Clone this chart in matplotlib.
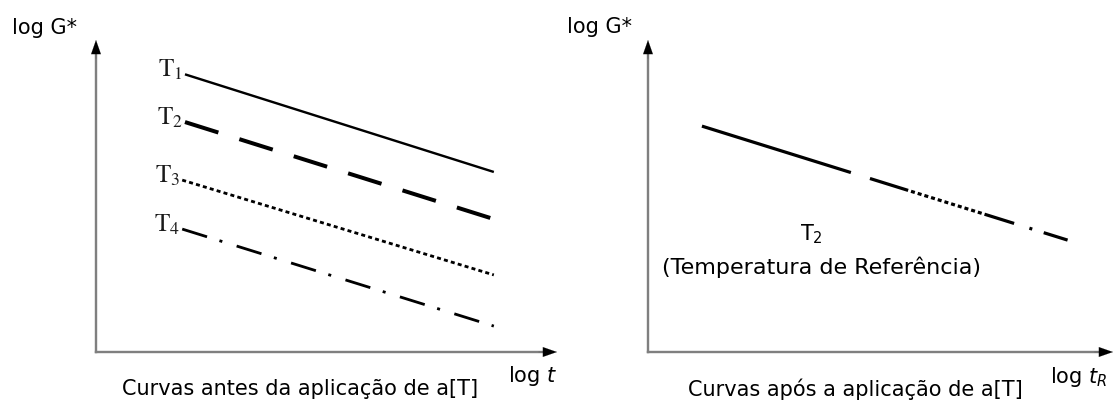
import matplotlib
matplotlib.use("Agg")
import matplotlib.pyplot as plt

plt.rcParams["font.family"] = ["DejaVu Sans"]
plt.rcParams["mathtext.fontset"] = "dejavusans"
plt.rcParams["lines.scale_dashes"] = False

# Isotherms before shifting: log t range and log G* at both ends
temps = ["T1", "T2", "T3", "T4"]
logt_start = [1.93, 1.93, 1.87, 1.87]
logt_end = [8.63, 8.63, 8.63, 8.63]
logG_start = [8.90, 7.37, 5.51, 3.94]
logG_end = [5.77, 4.26, 2.47, 0.83]

# Master curve at the reference temperature T2 after applying a[T]
master_logt = [1.16, 9.08]
master_logG = [7.24, 3.56]

PX = 0.72  # pixels -> points at 100 dpi

styles = [
    dict(linestyle="-", linewidth=2.4 * PX),
    dict(linestyle=(0, [35 * PX, 22 * PX]), linewidth=4.0 * PX),
    dict(linestyle=(0, [4 * PX, 3.2 * PX]), linewidth=2.8 * PX),
    dict(linestyle=(0, [26 * PX, 13 * PX, 3 * PX, 15 * PX]), linewidth=2.8 * PX),
]

master_dash = [156, 20, 40, 3] + [4, 3] * 11 + [31, 16, 3, 12, 25, 60]
master_style = dict(linestyle=(0, [d * PX for d in master_dash]), linewidth=3.2 * PX)

FS = 15

W, H = 1116, 403
fig = plt.figure(figsize=(W / 100, H / 100), dpi=100)


def make_axes(x0, x1, ytop, ybot):
    ax = fig.add_axes([x0 / W, 1 - ybot / H, (x1 - x0) / W, (ybot - ytop) / H])
    ax.set_xlim(0, 10)
    ax.set_ylim(0, 10)
    ax.axis("off")
    ax.patch.set_alpha(0)
    axis_color = "#7f7f7f"
    ax.plot([0, 0], [0, 0.96], transform=ax.transAxes, color=axis_color,
            lw=2.4 * PX, clip_on=False, solid_capstyle="projecting")
    ax.plot([0, 0.975], [0, 0], transform=ax.transAxes, color=axis_color,
            lw=2.4 * PX, clip_on=False, solid_capstyle="projecting")
    head = dict(arrowstyle="-|>,head_length=1.0,head_width=0.35",
                color="black", lw=0.1, shrinkA=0, shrinkB=0)
    ax.annotate("", xy=(0, 1.0), xytext=(0, 0.94), xycoords="axes fraction",
                arrowprops=head)
    ax.annotate("", xy=(1.0, 0), xytext=(0.96, 0), xycoords="axes fraction",
                arrowprops=head)
    return ax


# Left panel: curves before shifting
axL = make_axes(96, 557, 40, 352)
for name, xs, xe, ys, ye, st in zip(temps, logt_start, logt_end, logG_start, logG_end, styles):
    axL.plot([xs, xe], [ys, ye], color="black", solid_capstyle="butt",
             dash_capstyle="butt", clip_on=False, **st)
    axL.text(xs - 0.05, ys + 0.15, r"$\mathrm{T}_{%s}$" % name[1:], ha="right", va="center",
             fontsize=18, color="#1a1a1a", math_fontfamily="stix")

fig.text(12 / W, 1 - 28 / H, "log G*", fontsize=FS, ha="left", va="center")
fig.text(508 / W, 1 - 376 / H, r"log $t$", fontsize=FS, ha="left", va="center")
fig.text(300 / W, 1 - 389 / H, "Curvas antes da aplicação de a[T]", fontsize=FS,
         ha="center", va="center")

# Right panel: master curve
axR = make_axes(648, 1113, 40, 352)
axR.plot(master_logt, master_logG, color="black", dash_capstyle="butt",
         solid_capstyle="butt", clip_on=False, **master_style)
fig.text(811 / W, 1 - 234 / H, r"T$_\mathregular{2}$", fontsize=FS, ha="center", va="center")
fig.text(821 / W, 1 - 267 / H, "(Temperatura de Referência)", fontsize=16,
         ha="center", va="center")
fig.text(567 / W, 1 - 27 / H, "log G*", fontsize=FS, ha="left", va="center")
fig.text(1050 / W, 1 - 377 / H, r"log $t_R$", fontsize=FS, ha="left", va="center")
fig.text(855 / W, 1 - 389 / H, "Curvas após a aplicação de a[T]", fontsize=FS,
         ha="center", va="center")

fig.savefig("out.png", dpi=100)
